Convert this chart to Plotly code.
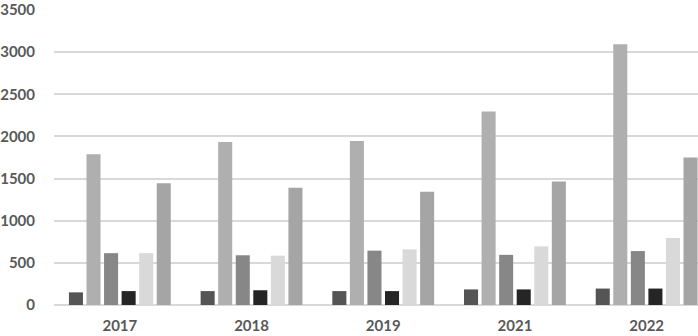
import plotly.graph_objects as go

years = ["2017", "2018", "2019", "2021", "2022"]
series1 = [150, 165, 165, 185, 195]
series2 = [1790, 1935, 1945, 2295, 3095]
series3 = [615, 590, 645, 595, 640]
series4 = [165, 175, 165, 185, 195]
series5 = [615, 585, 660, 695, 795]
series6 = [1445, 1390, 1345, 1465, 1750]

all_series = [series1, series2, series3, series4, series5, series6]
colors = ["#555555", "#afafaf", "#878787", "#252525", "#d9d9d9", "#a5a5a5"]

fig = go.Figure()
for vals, c in zip(all_series, colors):
    fig.add_trace(go.Bar(x=years, y=vals, marker=dict(color=c, line=dict(width=0)),
                         showlegend=False))

fig.update_layout(
    width=698, height=336,
    margin=dict(l=54, r=0, t=10, b=31, autoexpand=False),
    paper_bgcolor="white", plot_bgcolor="white",
    barmode="group", bargap=0.2, bargroupgap=0.2,
    font=dict(family="Lato", size=15, color="#595959"),
)
fig.update_xaxes(
    range=[-0.5, 4.39], showgrid=False, zeroline=False, automargin=False,
    tickfont=dict(family="Lato", size=15, color="#595959", weight="bold"),
    ticks="", showline=False, ticklabelstandoff=10, ticklabeloverflow="allow",
)
fig.update_yaxes(
    range=[0, 3500], dtick=500, showgrid=True, gridcolor="#d9d9d9", gridwidth=1.5,
    zeroline=True, zerolinecolor="#d9d9d9", zerolinewidth=1.5, automargin=False,
    tickfont=dict(family="Lato", size=15, color="#595959", weight="bold"),
    ticks="", ticklabelstandoff=18, ticklabeloverflow="allow",
)

fig.write_html("out.html", config={"displayModeBar": False},
               post_script="document.body.style.margin='0';document.body.style.overflow='hidden';")
